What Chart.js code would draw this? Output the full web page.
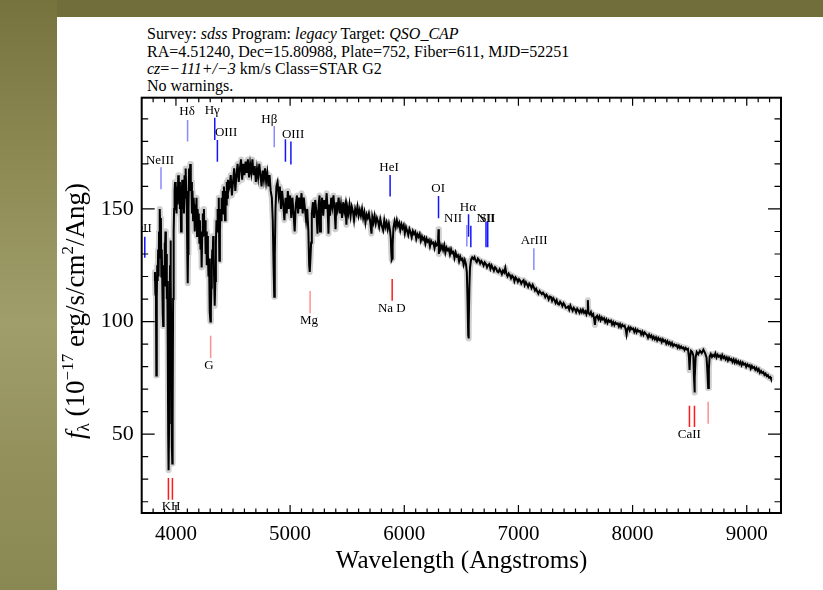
<!DOCTYPE html>
<html><head><meta charset="utf-8">
<script src="https://cdn.jsdelivr.net/npm/chart.js@4.4.0/dist/chart.umd.min.js"></script>
<style>
html,body{margin:0;padding:0;width:823px;height:590px;overflow:hidden;}
body{background:#726e3c;position:relative;}
#leftband{position:absolute;left:0;top:0;width:57px;height:590px;background:linear-gradient(180deg,#77733f 0%,#8f8c56 30%,#a09e6b 55%,#928f5b 80%,#8a8852 100%);}
#panel{position:absolute;left:57px;top:17px;width:766px;height:573px;background:#fff;}
#hdr{position:absolute;left:147px;top:25.4px;font-family:'Liberation Serif';font-size:16px;line-height:17.3px;color:#000;white-space:pre;}
canvas{position:absolute;left:0;top:0;}
</style></head>
<body>
<div id="leftband"></div><div id="panel"></div>
<div id="hdr">Survey: <i>sdss</i> Program: <i>legacy</i> Target: <i>QSO_CAP</i>
RA=4.51240, Dec=15.80988, Plate=752, Fiber=611, MJD=52251
<i>cz</i>=<i>−111+/−3</i> km/s Class=STAR G2
No warnings.</div>
<canvas id="c" width="823" height="590"></canvas>
<script>
// ---- spectrum (wavelength in Angstroms, flux in 1e-17 erg/s/cm2/Ang) ----
const waveBlue = [
3812,3816,3820,3824,3828,3832,3836,3840,3844,3848,3852,3856,3860,3864,3868,3872,3876,3880,3884,3888,3892,3896,3900,3904,3908,3912,3916,3920,3924,3928,3932,3934,3937,3940,3944,3948,3952,3956,3960,3964,3968,3971,3975,3980,3984,3988,
3992,3996,4000,4005,4010,4015,4020,4025,4030,4035,4040,4045,4050,4055,4060,4065,4070,4075,4080,4085,4090,4095,4100,4103,4106,4110,4115,4120,4125,4130,4135,4140,4145,4150,4155,4160,4165,4170,4175,4180,4185,4190,4195,4200,4205,4210,4215,4220,4225,
4230,4235,4240,4245,4250,4255,4260,4265,4270,4275,4280,4285,4290,4294,4298,4302,4306,4310,4314,4318,4322,4326,4330,4334,4338,4341,4345,4350,4355,4360,4365,4370,4375,4380,4385,4390,4395,4400,4405,4410,4415,4420,4425,4430,4435,4440,4445,4450,4455,4460,
4470,4480,4490,4500,4510,4520,4530,4540,4550,4560,4570,4580,4590,4600,4610,4620,4630,4640,4650,4660,4670,4680,4690,4700,4710,4720,4730,4740,4750,4760,4770,4780,4790,4800,4810,4820,4830,4840,4848,4855,4861,4866,4872,4880,
4890,4900,4910,4920,4930,4940,4950,4960,4970,4980,4990,5000,5010,5020,5030,5040,5050,5060,5070,5080,5090,5100,5110,5120,5130,5140,5150,5160,5167,5172,5178,5184
];
const fluxBlue = [
118,122,112,120,76,110,125,118,132,120,140,128,150,138,146,120,132,118,104,98,125,116,135,128,140,122,130,110,118,90,50,36,34,55,100,125,136,118,90,45,37,55,110,140,150,158,
162,150,158,148,160,152,165,155,162,150,158,140,155,163,150,160,148,165,155,168,158,150,128,117,130,150,168,160,170,158,162,148,158,145,155,150,140,152,145,155,138,150,142,148,135,145,132,140,124,
138,148,140,150,138,145,130,140,125,138,130,120,128,112,104,100,105,115,125,132,128,138,130,120,108,107,118,135,145,140,150,142,155,127,140,150,145,155,148,158,150,160,152,145,158,152,162,155,163,158,
160,165,156,162,168,158,165,170,162,168,172,163,170,165,171,166,172,164,170,166,172,165,169,162,168,164,170,165,160,167,163,168,162,166,160,165,158,155,145,125,111,130,150,160,
162,156,160,150,158,152,145,155,148,158,150,156,146,155,148,140,152,156,148,155,150,157,148,155,150,145,150,140,125,122,128,135
];
const waveGreen = [
5190,5200,5210,5220,5230,5240,5250,5258,5262,5270,5280,5290,5300,5310,5320,5330,5336,5342,5350,5360,
5370,5380,5390,5398,5405,5415,5425,5435,5445,5455,5465,5475,5485,5493,5500,5510,5520,5530,5540,5550,
5560,5570,5580,5590,5600
];
const fluxGreen = [
148,153,146,154,149,139,152,156,140,150,155,147,154,150,157,148,139,152,147,155,
151,156,149,141,153,150,155,148,152,146,153,149,152,143,151,148,152,147,151,149,
145,150,148,151,147
];
const waveYellow = [
5610,5620,5630,5640,5650,5660,5670,5680,5690,5700,5713,5720,5730,5740,5750,5760,5770,5780,5790,5800,
5815,5825,5835,5845,5855,5865,5875,5882,5886,5890,5894,5898,
5905,5915,5925,5935,5945,5955,5965,5975,5985,5995,6005,6015,6025,6035,6045,6055,6065,6075,6085,6095,
6105,6115,6125,6135,6145,6155,6165,6175,6185,6195,6205,6215,6225,6235,6245,6255,6265,6275,6285,6295,
6300,6303,6310,6320,6330,6340,6350,6360,6370,6380,6390,6400,6410,6420,6430,6440,6450,6460,6470,6480,
6490,6500,6510,6520,6530,6540,6548,6554,6560,6563,6566,6570,6576,6585,6595
];
const fluxYellow = [
149.5,147,150,146,148.5,144,147.5,146,148,145,139,146.5,144,147,143.5,146,144.5,142,145.5,143,
140.5,145,142,144,141,143.5,140.5,137,131,127.5,128,134,
141.5,144.5,142,145,142.5,143.8,140.6,143.2,141.4,142.8,139.2,141.9,140.3,138.4,141.1,139.6,137.5,140.2,138.9,139.8,
136.7,138.8,137.6,138.9,135.9,137.8,136.4,137.3,134.6,136.9,135.5,136.2,133.4,135.8,134.7,135.1,132.6,134.9,133.8,134.2,
141,130,134.6,132.2,133.7,131.8,133.9,130.6,132.8,131.7,132.3,129.8,132.1,130.4,130.9,128.2,130.6,128.9,129.4,126.8,
128.9,127.4,127.9,125.2,127.3,125.6,122,110,94,92.5,98,115,124,127.5,128.5
];
const waveRed = [
6605,6615,6625,6635,6645,6655,6665,6675,6685,6695,6705,6715,6725,6735,6745,6755,6765,6775,6785,6795,
6805,6815,6825,6835,6845,6855,6865,6875,6885,6895,6905,6915,6925,6935,6945,6955,6965,6975,6985,6995,
7005,7015,7025,7035,7045,7055,7065,7075,7085,7095,7105,7115,7125,7135,7145,7155,7165,7175,7185,7195,
7205,7215,7225,7235,7245,7255,7265,7275,7285,7295,7305,7315,7325,7335,7345,7355,7365,7375,7385,7395,
7405,7415,7425,7435,7445,7455,7465,7475,7485,7495,7505,7515,7525,7535
];
const fluxRed = [
127.8,128.6,127.1,126.4,127.9,127.2,125.8,126.9,126.1,124.9,126.3,125.6,124.1,125.2,125.6,123.4,124.9,123.8,122.6,124.1,
123.5,122.2,121.9,123.2,122.4,121.1,122.6,121.8,123.9,121.2,120.1,121.3,120.6,119.2,120.4,119.8,117.9,119.6,118.9,117.6,
118.8,118.1,116.9,117.9,118.4,116.2,117.5,116.6,115.4,116.8,116.1,114.9,116.3,115.2,113.8,114.6,113.3,112.4,113.6,112.9,
112.2,112.8,112.1,110.9,111.9,111.2,109.8,111.1,110.9,109.2,110.4,109.6,108.3,109.5,107.9,107.6,108.8,108.1,106.9,108.2,
107.4,106.1,106.2,106.7,105.3,107.1,105.9,104.8,106.1,105.4,104.2,105.7,104.9,103.9
];
const waveNearIR = [
7545,7555,7565,7575,7585,7595,7603,7608,7613,7625,7635,7645,7655,7663,7670,7677,7690,7700,7710,7720,
7730,7740,7750,7760,7770,7780,7790,7800,7810,7820,7830,7840,7850,7860,7870,7880,7890,7900,7910,7920,
7930,7940,7947,7955,7965,7975,7985,7995,8005,8015,8025,8035,8045,8055,8065,8075,8085,8095,8105,8115,
8125,8135,8145,8155,8165,8175,8185,8195,8205,8215,8225,8235,8245,8255,8265,8275,8285,8295,8305,8315,
8325,8335,8345,8355,8365,8375,8385,8395,8405,8415,8425,8435,8445,8455,8465,8475,8485
];
const fluxNearIR = [
105.2,104.1,105.3,103.9,104.6,103.2,104.8,109.5,103.9,103.1,104.2,102.6,103.3,101.2,98.5,101.8,102.6,101.1,102.3,100.6,
101.8,100.9,101.5,99.8,100.9,99.4,100.6,99.9,100.4,98.7,99.8,98.4,99.5,98.9,99.2,97.8,98.9,97.5,98.6,97.9,
98.2,96.4,94.2,96.8,97.6,96.1,97.3,96.6,96.9,95.4,96.6,95.2,96.3,95.6,95.8,94.3,95.5,94.1,95.2,94.6,
94.1,92.8,94.2,93.1,93.8,92.4,93.3,92.1,93,91.6,92.7,91.8,92.3,90.9,92.1,91.2,91.6,90.2,91.3,90.1,
90.8,89.6,90.5,89.1,89.9,89.3,89.6,88.4,89.3,88.2,88.9,88.1,88.5,87.4,88.3,87.6,87.9
];
const waveCaT = [
8494,8499,8504,8512,8522,8532,8538,8542,8546,8552,8562,8575,8590,8605,8620,8635,8648,8655,8662,8668,
8675,8685,8695,8705,8715,8725,8735,8745,8755,8765,8775,8785,8795,8805,8815,8825,8835,8845,8855,8865,
8875,8885,8895,8905,8915,8925,8935,8945,8955,8965,8975,8985,8995,9005,9015,9025,9035,9045,9055,9065,
9075,9085,9095,9105,9115,9125,9135,9145,9155,9165,9175,9185,9195,9205,9212
];
const fluxCaT = [
84,78.5,84,87,86.5,85,75,68.5,75,84,86.5,85.5,87,86,87.5,86,84,78,70.5,79,
84.5,85.6,84.3,85.2,84.6,85.9,84.1,85.3,84.4,84.9,83.6,85.1,83.8,84.5,83.2,84.1,82.7,83.9,82.9,83.4,
82.1,83.2,81.8,82.9,81.6,82.4,81.2,82.1,80.6,81.8,80.9,81.3,79.9,81,80.2,80.6,79.1,80.3,79.4,79.8,
78.6,79.4,78.1,78.9,77.3,78.1,77.2,77.6,76.3,76.9,75.8,76.2,75.1,75.4,74.6
];
const xTickValues = [4000,5000,6000,7000,8000,9000];
const yTickValues = [50,100,150];

// emission line list (rest wavelength, marker flux range) and labels
const emWaves = [3727,3869,4102,4340,4363,4861,4959,5007,5876,6300,6548,6563,6583,6716,6731,7135];
const emLow   = [128.3,158.7,179.9,180.6,171,177.4,171,169.7,155.5,145.9,133.3,137.7,133,133,133,122.9];
const emHigh  = [137.7,168.5,189.5,190.5,180.6,186.8,180.9,179.9,165.1,155.8,142.9,147.6,142.5,144.4,144.4,132.6];
const emLabels = ["OII","NeIII","Hδ","Hγ","OIII","Hβ","OIII","HeI","OI","NII","Hα","NII","SII","ArIII"];
const emLabelX = [3709,3860,4097,4318,4439,4818,5026,5867,6297,6428,6557,6712,6728,7138];
const emLabelY = [141.1,171.7,193.2,193.9,183.9,189.9,183.1,168.5,159,145.9,150.8,145.9,145.9,135.9];
// absorption line list
const abWaves = [3934,3969,4304,5175,5894,8498,8542,8662];
const abLow   = [20.9,20.9,83.8,103.7,109.2,53.2,53.2,54.6];
const abHigh  = [30.5,30.5,93.7,113.6,118.9,62.6,62.6,64.4];
const abLabels = ["K","H","G","Mg","Na D","CaII"];
const abLabelX = [3916,3998,4290,5166,5891,8497];
const abLabelY = [17.9,17.9,80.3,100.3,105.9,49.7];

// ---- assemble ----
const wavelength = [].concat(waveBlue, waveGreen, waveYellow, waveRed, waveNearIR, waveCaT);
const flux = [].concat(fluxBlue, fluxGreen, fluxYellow, fluxRed, fluxNearIR, fluxCaT);
if (wavelength.length !== flux.length) console.error('length mismatch', wavelength.length, flux.length);

// ---- styles ----
const emFaint = new Set([1,2,5,10,15]);
const abFaint = new Set([2,3,7]);

const decor = {
  id:'decor',
  afterDraw(chart){
    const {ctx, chartArea:a, scales:{x,y}} = chart;
    ctx.save();
    ctx.save();
    ctx.beginPath(); ctx.rect(a.left,a.top,a.right-a.left,a.bottom-a.top); ctx.clip();
    ctx.lineWidth = 1.5;
    emWaves.forEach((w,i)=>{
      ctx.strokeStyle = emFaint.has(i)?'#8a8aff':'#1414ff';
      const px = x.getPixelForValue(w);
      ctx.beginPath(); ctx.moveTo(px,y.getPixelForValue(emLow[i])); ctx.lineTo(px,y.getPixelForValue(emHigh[i])); ctx.stroke();
    });
    abWaves.forEach((w,i)=>{
      ctx.strokeStyle = abFaint.has(i)?'#ff9090':'#ff1a1a';
      const px = x.getPixelForValue(w);
      ctx.beginPath(); ctx.moveTo(px,y.getPixelForValue(abLow[i])); ctx.lineTo(px,y.getPixelForValue(abHigh[i])); ctx.stroke();
    });
    ctx.fillStyle = '#000';
    ctx.font = "13px 'Liberation Serif'";
    ctx.textAlign = 'center'; ctx.textBaseline = 'middle';
    emLabels.forEach((t,i)=>ctx.fillText(t, x.getPixelForValue(emLabelX[i]), y.getPixelForValue(emLabelY[i])));
    abLabels.forEach((t,i)=>ctx.fillText(t, x.getPixelForValue(abLabelX[i]), y.getPixelForValue(abLabelY[i])));
    ctx.restore();

    ctx.strokeStyle = '#000'; ctx.lineWidth = 2;
    ctx.strokeRect(a.left, a.top, a.right-a.left, a.bottom-a.top);
    ctx.lineWidth = 1.2;
    ctx.beginPath();
    for (let v=3800; v<=9200; v+=100){
      const px = x.getPixelForValue(v);
      const L = (v%1000===0)?8:4.5;
      ctx.moveTo(px,a.bottom); ctx.lineTo(px,a.bottom-L);
      ctx.moveTo(px,a.top); ctx.lineTo(px,a.top+L);
    }
    for (let v=20; v<=190; v+=10){
      const py = y.getPixelForValue(v);
      const L = (v%50===0)?13:6.5;
      ctx.moveTo(a.left,py); ctx.lineTo(a.left+L,py);
      ctx.moveTo(a.right,py); ctx.lineTo(a.right-L,py);
    }
    ctx.stroke();

    ctx.font = "25px 'Liberation Serif'";
    ctx.textAlign='center'; ctx.textBaseline='alphabetic';
    ctx.fillText('Wavelength (Angstroms)', 461.5, 567.5);

    const parts = [
      {t:'f', f:"italic 27px 'Liberation Serif'", dy:0},
      {t:'λ', f:"17px 'Liberation Serif'", dy:5},
      {t:' (10', f:"27px 'Liberation Serif'", dy:0},
      {t:'−17', f:"17px 'Liberation Serif'", dy:-11},
      {t:' erg/s/cm', f:"27px 'Liberation Serif'", dy:0},
      {t:'2', f:"17px 'Liberation Serif'", dy:-11},
      {t:'/Ang)', f:"27px 'Liberation Serif'", dy:0}
    ];
    let total=0;
    parts.forEach(p=>{ctx.font=p.f; p.w=ctx.measureText(p.t).width; total+=p.w;});
    ctx.translate(84, 311);
    ctx.rotate(-Math.PI/2);
    ctx.textAlign='left';
    let cx=-total/2;
    parts.forEach(p=>{ctx.font=p.f; ctx.fillText(p.t,cx,p.dy); cx+=p.w;});
    ctx.restore();
  }
};

const pts = wavelength.map((w,i)=>({x:w,y:flux[i]}));
new Chart(document.getElementById('c'), {
  type:'line',
  data:{datasets:[
    {data:pts, borderColor:'#000', borderWidth:2, pointRadius:0, tension:0, order:0},
    {data:pts, borderColor:'#d0d0d0', borderWidth:6, pointRadius:0, tension:0, order:1, borderJoinStyle:'round', borderCapStyle:'butt'}
  ]},
  options:{
    responsive:false, animation:false, events:[],
    layout:{padding:{top:97.7,right:42,left:0,bottom:0}},
    plugins:{legend:{display:false},tooltip:{enabled:false},title:{display:false}},
    scales:{
      x:{type:'linear',min:3700,max:9300,
         grid:{display:false,drawTicks:false},border:{display:false},
         afterBuildTicks:s=>{s.ticks=xTickValues.map(v=>({value:v}));},
         afterFit:s=>{s.height=77;},
         ticks:{font:{family:'Liberation Serif',size:21},color:'#000',padding:9,maxRotation:0,autoSkip:false,callback:v=>String(v)}},
      y:{type:'linear',min:15,max:199.4,
         grid:{display:false,drawTicks:false},border:{display:false},
         afterBuildTicks:s=>{s.ticks=yTickValues.map(v=>({value:v}));},
         afterFit:s=>{s.width=141.7;},
         ticks:{font:{family:'Liberation Serif',size:22},color:'#000',padding:8,autoSkip:false,callback:v=>String(v)}}
    }
  },
  plugins:[decor]
});
</script>
</body></html>
